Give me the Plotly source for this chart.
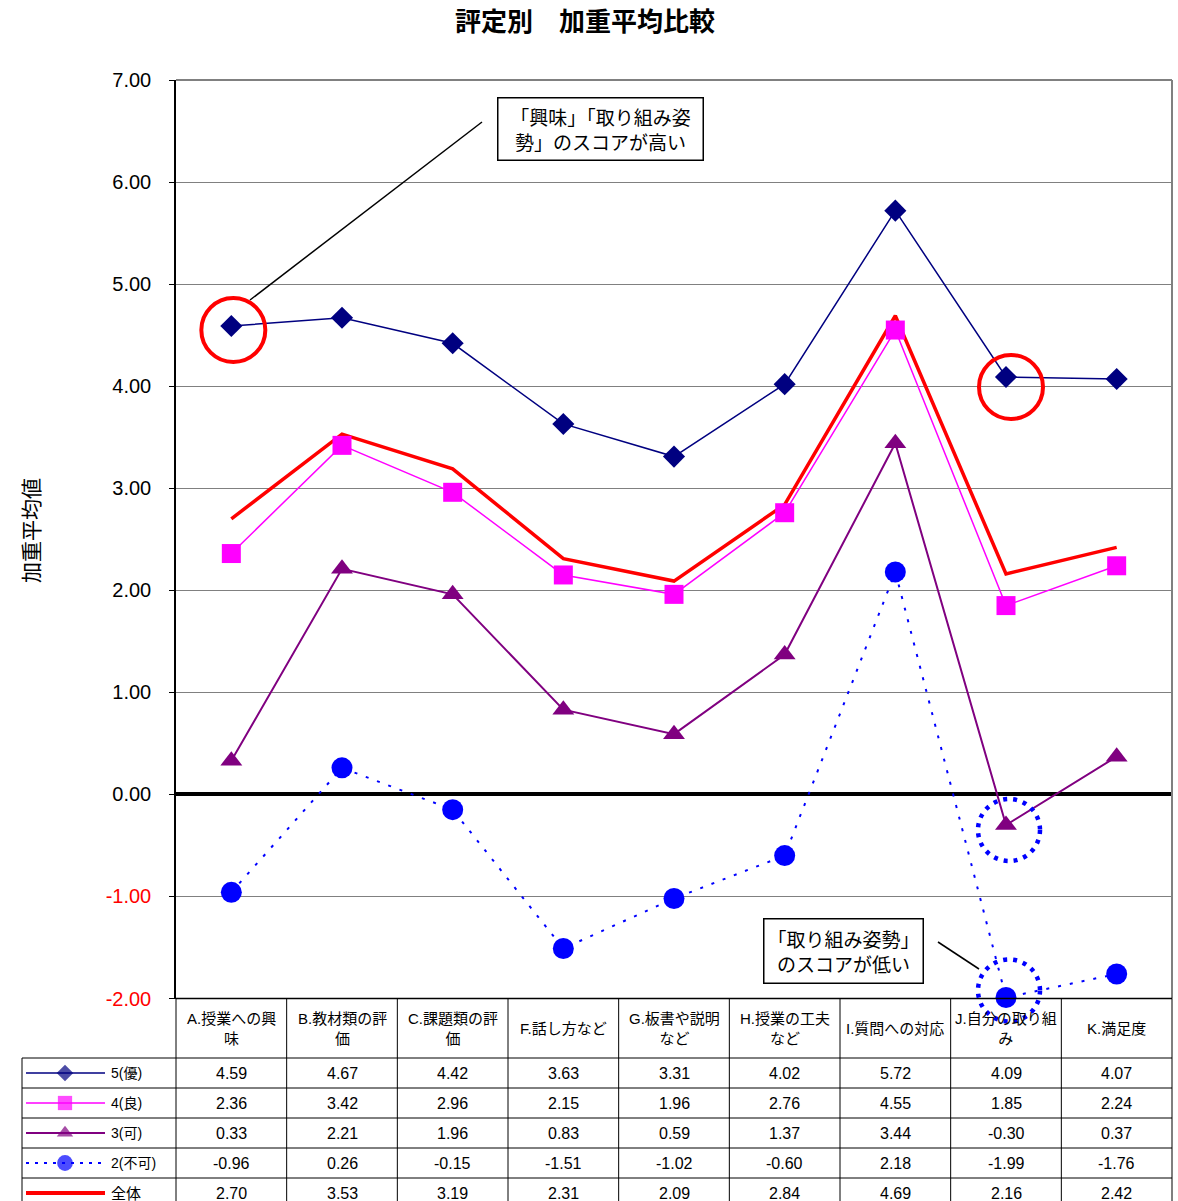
import plotly.graph_objects as go

# ---- data -------------------------------------------------------------
header_labels = [
    "A.授業への興<br>味", "B.教材類の評<br>価", "C.課題類の評<br>価", "F.話し方など",
    "G.板書や説明<br>など", "H.授業の工夫<br>など", "I.質問への対応", "J.自分の取り組<br>み",
    "K.満足度",
]
categories = [h.replace("<br>", "") for h in header_labels]

series_names = ["5(優)", "4(良)", "3(可)", "2(不可)", "全体"]
score_5 = [4.59, 4.67, 4.42, 3.63, 3.31, 4.02, 5.72, 4.09, 4.07]
score_4 = [2.36, 3.42, 2.96, 2.15, 1.96, 2.76, 4.55, 1.85, 2.24]
score_3 = [0.33, 2.21, 1.96, 0.83, 0.59, 1.37, 3.44, -0.30, 0.37]
score_2 = [-0.96, 0.26, -0.15, -1.51, -1.02, -0.60, 2.18, -1.99, -1.76]
score_all = [2.70, 3.53, 3.19, 2.31, 2.09, 2.84, 4.69, 2.16, 2.42]

y_ticks = [7, 6, 5, 4, 3, 2, 1, 0, -1, -2]

# ---- page geometry (pixels) -------------------------------------------
W, H = 1178, 1201
PL, PR, PT, PB = 176, 1172, 80, 998.5      # plot area
LEG_L = 22                                 # left edge of the table's legend column
HEAD_B = 1058                              # bottom of the header row
ROW_H = 30
Y_MIN, Y_MAX = -2, 7
N = len(categories)
COL_W = (PR - PL) / N

JP = "Liberation Sans, Noto Sans CJK JP, sans-serif"


def px_x(i):
    return PL + (i + 0.5) * COL_W


def px_y(v):
    return PT + (Y_MAX - v) * (PB - PT) / (Y_MAX - Y_MIN)


styles = [
    dict(color="#000080", width=1.5, dash="solid", symbol="diamond", size=17),
    dict(color="#FF00FF", width=1.5, dash="solid", symbol="square", size=19),
    dict(color="#800080", width=2, dash="solid", symbol="triangle-up", size=19),
    dict(color="#0000FF", width=2, dash="3px,9px", symbol="circle", size=21),
    dict(color="#FF0000", width=3.5, dash="solid", symbol=None, size=0),
]
all_series = [score_5, score_4, score_3, score_2, score_all]

fig = go.Figure()

# overall line first so the category markers sit on top of it
order = [4, 0, 1, 2, 3]
for k in order:
    name, vals, st = series_names[k], all_series[k], styles[k]
    fig.add_trace(go.Scatter(
        x=categories, y=vals, name=name,
        mode="lines+markers" if st["symbol"] else "lines",
        line=dict(color=st["color"], width=st["width"], dash=st["dash"]),
        marker=dict(symbol=st["symbol"] or "circle", size=st["size"],
                    color=st["color"], line=dict(width=0)),
        cliponaxis=False, showlegend=False, xaxis="x", yaxis="y",
    ))

# legend keys inside the data table (pixel overlay axes)
for k, (name, st) in enumerate(zip(series_names, styles)):
    yr = HEAD_B + ROW_H * (k + 0.5)
    fig.add_trace(go.Scatter(
        x=[26, 65, 105], y=[yr] * 3, mode="lines+markers",
        line=dict(color=st["color"], width=4 if st["symbol"] is None else st["width"],
                  dash=st["dash"] if st["dash"] == "solid" else "3px,6px"),
        marker=dict(symbol=st["symbol"] or "circle",
                    size=[0, (st["size"] * 0.75) if st["symbol"] else 0, 0],
                    color=st["color"], line=dict(width=0)),
        showlegend=False, hoverinfo="skip", xaxis="x2", yaxis="y2",
    ))

shapes = []
annotations = []


def hline(x0, x1, y, color="black", width=1):
    shapes.append(dict(type="line", xref="x2", yref="y2", x0=x0, x1=x1, y0=y, y1=y,
                       line=dict(color=color, width=width), layer="above"))


def vline(x, y0, y1, color="black", width=1):
    shapes.append(dict(type="line", xref="x2", yref="y2", x0=x, x1=x, y0=y0, y1=y1,
                       line=dict(color=color, width=width), layer="above"))


# plot-area frame (top/right grey)
hline(PL, PR, PT, "#808080", 2)
vline(PR, PT, PB, "#808080", 2)

# data table grid
hline(PL, PR, PB, "black", 1.5)
for i in range(N + 1):
    vline(PL + i * COL_W, PB, H, "black", 1)
vline(LEG_L, HEAD_B, H, "black", 1)
for k in range(len(series_names)):
    hline(LEG_L, PR, HEAD_B + k * ROW_H, "black", 1)

# header cells
for i, lab in enumerate(header_labels):
    annotations.append(dict(xref="x2", yref="y2", x=px_x(i), y=(PB + HEAD_B) / 2,
                            text=lab, showarrow=False, align="center",
                            font=dict(family=JP, size=15, color="black")))

# value cells
for k, vals in enumerate(all_series):
    yr = HEAD_B + ROW_H * (k + 0.5)
    annotations.append(dict(xref="x2", yref="y2", x=109, y=yr, text=series_names[k],
                            xanchor="left", showarrow=False,
                            font=dict(family=JP, size=15 if k == 4 else 14, color="black")))
    for i, v in enumerate(vals):
        annotations.append(dict(xref="x2", yref="y2", x=px_x(i), y=yr,
                                text=f"{v:.2f}", showarrow=False,
                                font=dict(family=JP, size=16, color="black")))

# title and y-axis label
annotations.append(dict(xref="x2", yref="y2", x=585, y=19, text="<b>評定別　加重平均比較</b>",
                        showarrow=False, font=dict(family="Noto Sans CJK JP", size=26,
                                                   color="black")))
annotations.append(dict(xref="x2", yref="y2", x=30, y=531, text="加重平均値", textangle=-90,
                        showarrow=False, font=dict(family="Noto Sans CJK JP", size=21,
                                                  color="black")))

# callouts
annotations.append(dict(xref="x2", yref="y2", x=600, y=128.5, width=200, height=57,
                        text="「興味」「取り組み姿<br>勢」のスコアが高い",
                        showarrow=False, bgcolor="white", bordercolor="black",
                        borderwidth=1.5, borderpad=2, align="center",
                        font=dict(family="Noto Sans CJK JP", size=19, color="black")))
shapes.append(dict(type="line", xref="x2", yref="y2", x0=250, y0=300, x1=482, y1=122,
                   line=dict(color="black", width=1.5)))

annotations.append(dict(xref="x2", yref="y2", x=843, y=950.5, width=154, height=59,
                        text="「取り組み姿勢」<br>のスコアが低い",
                        showarrow=False, bgcolor="white", bordercolor="black",
                        borderwidth=1.5, borderpad=2, align="center",
                        font=dict(family="Noto Sans CJK JP", size=19, color="black")))
shapes.append(dict(type="line", xref="x2", yref="y2", x0=938, y0=942, x1=979, y1=969,
                   line=dict(color="black", width=1.5)))


def ring(cx, cy, r, color, width, dash):
    shapes.append(dict(type="circle", xref="x2", yref="y2",
                       x0=cx - r, x1=cx + r, y0=cy - r, y1=cy + r,
                       line=dict(color=color, width=width, dash=dash), layer="above"))


ring(px_x(0) + 2, px_y(score_5[0]) + 4, 32, "#FF0000", 4, "solid")
ring(px_x(7) + 5, px_y(score_5[7]) + 10, 32, "#FF0000", 4, "solid")
ring(px_x(7) + 3, px_y(score_3[7]) + 5, 31, "#0000FF", 4.5, "4px,6px")
ring(px_x(7) + 3, px_y(score_2[7]) - 7, 31, "#0000FF", 4.5, "4px,6px")

tick_text = [
    (f'<span style="color:#FF0000">{t:.2f}</span>' if t < 0 else f"{t:.2f}")
    for t in y_ticks
]

fig.update_layout(
    width=W, height=H, autosize=False,
    margin=dict(l=0, r=0, t=0, b=0, pad=0, autoexpand=False),
    paper_bgcolor="white", plot_bgcolor="rgba(0,0,0,0)",
    xaxis=dict(domain=[PL / W, PR / W], range=[-0.5, N - 0.5], type="category",
               showticklabels=False, showgrid=False, zeroline=False, showline=False,
               ticks="", automargin=False),
    yaxis=dict(domain=[1 - PB / H, 1 - PT / H], range=[Y_MIN, Y_MAX],
               tickvals=y_ticks, ticktext=tick_text,
               tickfont=dict(family="Liberation Sans, Arial", size=20, color="black"),
               showgrid=True, gridcolor="#808080", gridwidth=1.2,
               zeroline=True, zerolinecolor="black", zerolinewidth=3.5,
               showline=True, linecolor="black", linewidth=1.5,
               ticks="outside", ticklen=5, tickcolor="black",
               ticklabelstandoff=14, automargin=False),
    xaxis2=dict(domain=[0, 1], range=[0, W], visible=False, anchor="y2",
                automargin=False),
    yaxis2=dict(domain=[0, 1], range=[H, 0], visible=False, anchor="x2",
                automargin=False),
    shapes=shapes, annotations=annotations,
    showlegend=False,
)

fig.write_html("out.html")
